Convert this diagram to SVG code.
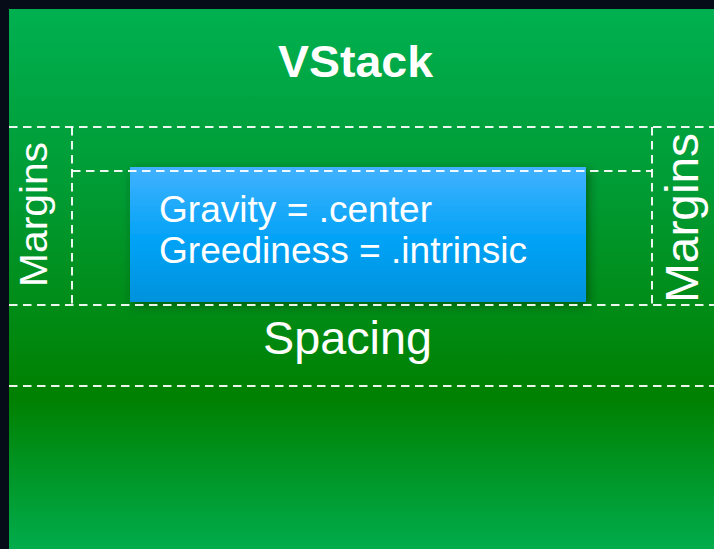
<svg xmlns="http://www.w3.org/2000/svg" width="714" height="549" viewBox="0 0 714 549">
  <style>
    .lbl { font-family: "Liberation Sans", Arial, sans-serif; fill: #ffffff; }
    .guide { fill: none; stroke: #ffffff; stroke-opacity: 0.92; stroke-width: 2; stroke-dasharray: 8.5 5.5; }
  </style>
  <defs>
    <linearGradient id="bg" x1="0" y1="0" x2="0" y2="1">
      <stop offset="0" stop-color="#00b050"/>
      <stop offset="0.35" stop-color="#009a32"/>
      <stop offset="0.72" stop-color="#008000"/>
      <stop offset="1" stop-color="#00ac4c"/>
    </linearGradient>
    <linearGradient id="blue" x1="0" y1="0" x2="0" y2="1">
      <stop offset="0" stop-color="#42b2ff"/>
      <stop offset="0.55" stop-color="#00a2f6"/>
      <stop offset="1" stop-color="#0092dc"/>
    </linearGradient>
    <filter id="shadow" x="-10%" y="-20%" width="125%" height="150%">
      <feDropShadow dx="3" dy="3" stdDeviation="5" flood-color="#003300" flood-opacity="0.55"/>
    </filter>
  </defs>

  <rect x="0" y="0" width="714" height="549" fill="#060c18"/>
  <rect x="9" y="9" width="705" height="540" fill="url(#bg)"/>

  <g id="title">
    <text class="lbl" x="278" y="77" font-size="45" font-weight="bold" textLength="155" lengthAdjust="spacingAndGlyphs">VStack</text>
  </g>

  <g id="view">
    <rect x="130" y="167" width="456" height="135" fill="url(#blue)" filter="url(#shadow)"/>
    <text class="lbl" x="159" y="222" font-size="37" textLength="273" lengthAdjust="spacingAndGlyphs">Gravity = .center</text>
    <text class="lbl" x="159" y="263" font-size="37" textLength="368" lengthAdjust="spacingAndGlyphs">Greediness = .intrinsic</text>
  </g>

  <g id="guides">
    <line class="guide" x1="9" y1="127" x2="714" y2="127"/>
    <line class="guide" x1="72" y1="171" x2="652" y2="171"/>
    <line class="guide" x1="72" y1="127" x2="72" y2="305"/>
    <line class="guide" x1="652" y1="127" x2="652" y2="305"/>
    <line class="guide" x1="9" y1="305" x2="714" y2="305"/>
    <line class="guide" x1="9" y1="386" x2="714" y2="386"/>
  </g>

  <g id="margins-left">
    <text class="lbl" transform="translate(47,287) rotate(-90)" x="0" y="0" font-size="39" textLength="145" lengthAdjust="spacingAndGlyphs">Margins</text>
  </g>
  <g id="margins-right">
    <text class="lbl" transform="translate(698,303) rotate(-90)" x="0" y="0" font-size="46" textLength="170" lengthAdjust="spacingAndGlyphs">Margins</text>
  </g>
  <g id="spacing">
    <text class="lbl" x="263" y="354" font-size="46" textLength="169" lengthAdjust="spacingAndGlyphs">Spacing</text>
  </g>
</svg>
